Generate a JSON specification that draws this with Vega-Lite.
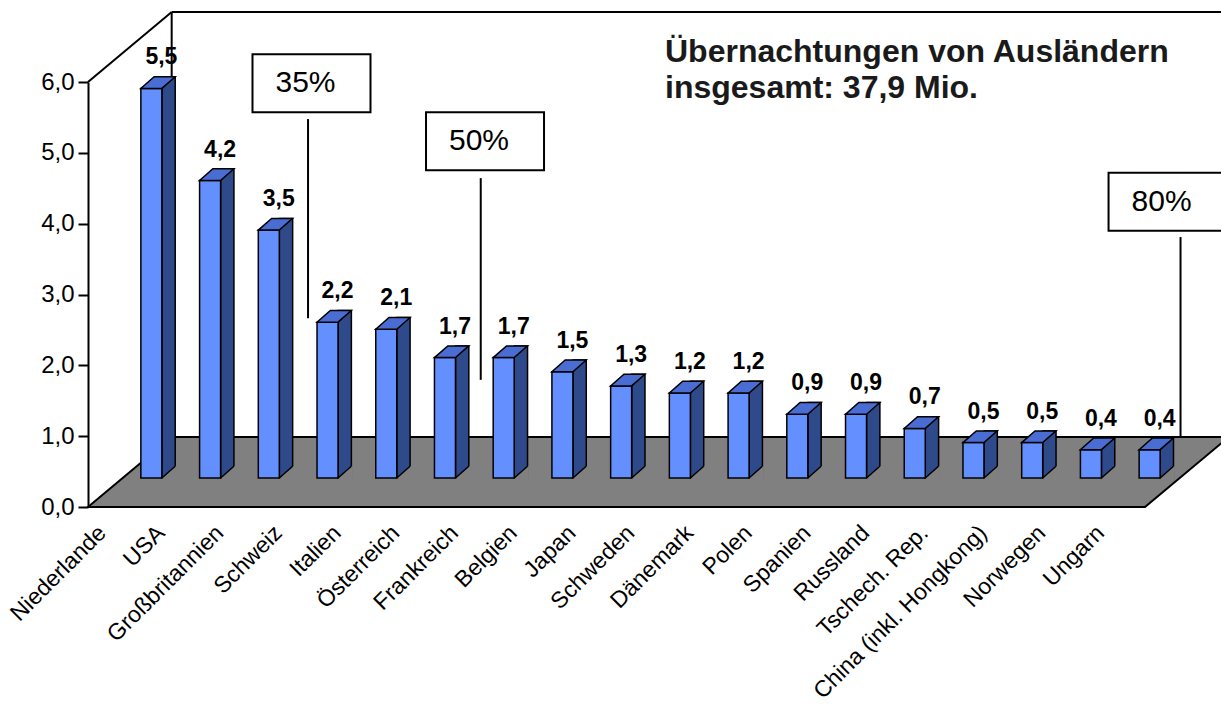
{
  "$schema": "https://vega.github.io/schema/vega-lite/v6.json",
  "width": 1057,
  "height": 425,
  "autosize": {"type": "none"},
  "padding": {"left": 88, "top": 82, "right": 76, "bottom": 202},
  "background": "white",
  "config": {
    "view": {"stroke": null},
    "font": "Liberation Sans",
    "locale": {"number": {"decimal": ",", "thousands": ".", "grouping": [3], "currency": ["", " €"]}}
  },
  "datasets": {
    "laender": [
      {"land": "Niederlande", "wert": 5.5},
      {"land": "USA", "wert": 4.2},
      {"land": "Großbritannien", "wert": 3.5},
      {"land": "Schweiz", "wert": 2.2},
      {"land": "Italien", "wert": 2.1},
      {"land": "Österreich", "wert": 1.7},
      {"land": "Frankreich", "wert": 1.7},
      {"land": "Belgien", "wert": 1.5},
      {"land": "Japan", "wert": 1.3},
      {"land": "Schweden", "wert": 1.2},
      {"land": "Dänemark", "wert": 1.2},
      {"land": "Polen", "wert": 0.9},
      {"land": "Spanien", "wert": 0.9},
      {"land": "Russland", "wert": 0.7},
      {"land": "Tschech. Rep.", "wert": 0.5},
      {"land": "China (inkl. Hongkong)", "wert": 0.5},
      {"land": "Norwegen", "wert": 0.4},
      {"land": "Ungarn", "wert": 0.4}
    ],
    "boden": [
      {"tiefe": 0, "von": 0, "bis": 18},
      {"tiefe": 0.987, "von": 1.425, "bis": 19.425}
    ],
    "rahmen": [
      {"xa": 0, "ya": 6, "xb": 1.425, "yb": 6.987},
      {"xa": 1.425, "ya": 6.987, "xb": 19.8, "yb": 6.987},
      {"xa": 1.425, "ya": 0.987, "xb": 1.425, "yb": 6.987}
    ],
    "marken": [
      {"label": "35%", "lx": 3.747, "yo": 5.477, "yu": 2.665, "bx": 3.806, "by": 5.982},
      {"label": "50%", "lx": 6.688, "yo": 4.643, "yu": 1.795, "bx": 6.761, "by": 5.164},
      {"label": "80%", "lx": 18.605, "yo": 3.811, "yu": 0.977, "bx": 18.384, "by": 4.311}
    ],
    "titel": [
      {"text": "Übernachtungen von Ausländern\ninsgesamt: 37,9 Mio."}
    ]
  },
  "resolve": {
    "scale": {"x": "independent"},
    "axis": {"x": "independent", "y": "independent"}
  },
  "layer": [
    {
      "data": {"name": "boden"},
      "mark": {"type": "area", "orient": "horizontal", "fill": "#808080", "stroke": "black", "strokeWidth": 2},
      "encoding": {
        "y": {"field": "tiefe", "type": "quantitative", "scale": {"domain": [0, 6], "nice": false}, "axis": null},
        "x": {"field": "von", "type": "quantitative", "scale": {"domain": [0, 18], "nice": false, "zero": false}, "axis": null},
        "x2": {"field": "bis"}
      }
    },
    {
      "data": {"name": "rahmen"},
      "mark": {"type": "rule", "color": "black", "strokeWidth": 2},
      "encoding": {
        "x": {"field": "xa", "type": "quantitative", "scale": {"domain": [0, 18], "nice": false, "zero": false}, "axis": null},
        "x2": {"field": "xb"},
        "y": {"field": "ya", "type": "quantitative", "scale": {"domain": [0, 6], "nice": false}, "axis": null},
        "y2": {"field": "yb"}
      }
    },
    {
      "data": {"name": "marken"},
      "mark": {"type": "rule", "color": "black", "strokeWidth": 2},
      "encoding": {
        "x": {"field": "lx", "type": "quantitative", "scale": {"domain": [0, 18], "nice": false, "zero": false}, "axis": null},
        "y": {"field": "yo", "type": "quantitative", "scale": {"domain": [0, 6], "nice": false}, "axis": null},
        "y2": {"field": "yu"}
      }
    },
    {
      "data": {"name": "laender"},
      "mark": {"type": "bar", "width": 13.3, "xOffset": 51.2, "yOffset": -40.7, "y2Offset": -29, "fill": "#2F4A8A", "stroke": "black", "strokeWidth": 1.5},
      "encoding": {
        "x": {"field": "land", "type": "nominal", "sort": null, "scale": {"type": "band", "paddingInner": 0, "paddingOuter": 0}, "axis": null},
        "y": {"field": "wert", "type": "quantitative", "scale": {"domain": [0, 6], "nice": false}, "axis": null},
        "y2": {"datum": 0}
      }
    },
    {
      "data": {"name": "laender"},
      "mark": {"type": "point", "shape": "M10.5,0L23.8,-11.7L25.2,-11.7L25.2,1.2L10.5,1.2Z", "size": 4, "filled": true, "fill": "#808080", "strokeWidth": 0, "opacity": 1, "xOffset": 34, "yOffset": -29},
      "encoding": {
        "x": {"field": "land", "type": "nominal", "sort": null, "scale": {"type": "band", "paddingInner": 0, "paddingOuter": 0}, "axis": null},
        "y": {"datum": 0, "type": "quantitative", "scale": {"domain": [0, 6], "nice": false}, "axis": null}
      }
    },
    {
      "data": {"name": "laender"},
      "mark": {"type": "point", "shape": "M10.5,0L23.8,-11.7", "size": 4, "filled": false, "stroke": "black", "strokeWidth": 1.5, "opacity": 1, "xOffset": 34, "yOffset": -29},
      "encoding": {
        "x": {"field": "land", "type": "nominal", "sort": null, "scale": {"type": "band", "paddingInner": 0, "paddingOuter": 0}, "axis": null},
        "y": {"datum": 0, "type": "quantitative", "scale": {"domain": [0, 6], "nice": false}, "axis": null}
      }
    },
    {
      "data": {"name": "laender"},
      "mark": {"type": "bar", "width": 21, "xOffset": 34, "yOffset": -29, "y2Offset": -29, "fill": "#6490FF", "stroke": "black", "strokeWidth": 1.5},
      "encoding": {
        "x": {
          "field": "land", "type": "nominal", "sort": null,
          "scale": {"type": "band", "paddingInner": 0, "paddingOuter": 0},
          "axis": {
            "title": null, "domain": false, "ticks": false,
            "labelAngle": -45, "labelAlign": "right", "labelBaseline": "middle",
            "labelFontSize": 23, "labelColor": "black", "labelFont": "Liberation Sans",
            "labelPadding": 22, "labelOffset": -15, "labelOverlap": false, "labelLimit": 0
          }
        },
        "y": {
          "field": "wert", "type": "quantitative",
          "scale": {"domain": [0, 6], "nice": false},
          "axis": {
            "values": [0, 1, 2, 3, 4, 5, 6], "format": ".1f", "title": null, "grid": false,
            "domainColor": "black", "domainWidth": 2, "tickColor": "black", "tickWidth": 2, "tickSize": 10,
            "labelFontSize": 24, "labelColor": "black", "labelFont": "Liberation Sans", "labelPadding": 4
          }
        },
        "y2": {"datum": 0}
      }
    },
    {
      "data": {"name": "laender"},
      "mark": {"type": "point", "shape": "M-10.5,0L10.5,0L23.8,-11.7L2.8,-11.7Z", "size": 4, "filled": true, "fill": "#4A6DD4", "stroke": "black", "strokeWidth": 1.5, "opacity": 1, "xOffset": 34, "yOffset": -29},
      "encoding": {
        "x": {"field": "land", "type": "nominal", "sort": null, "scale": {"type": "band", "paddingInner": 0, "paddingOuter": 0}, "axis": null},
        "y": {"field": "wert", "type": "quantitative", "scale": {"domain": [0, 6], "nice": false}, "axis": null}
      }
    },
    {
      "data": {"name": "laender"},
      "mark": {"type": "text", "fontSize": 23, "fontWeight": "bold", "font": "Liberation Sans", "color": "black", "align": "center", "baseline": "middle", "xOffset": 44, "yOffset": -60},
      "encoding": {
        "x": {"field": "land", "type": "nominal", "sort": null, "scale": {"type": "band", "paddingInner": 0, "paddingOuter": 0}, "axis": null},
        "y": {"field": "wert", "type": "quantitative", "scale": {"domain": [0, 6], "nice": false}, "axis": null},
        "text": {"field": "wert", "type": "quantitative", "format": ".1f"}
      }
    },
    {
      "data": {"name": "marken"},
      "mark": {"type": "point", "shape": "M-59,-29L59,-29L59,29L-59,29Z", "size": 4, "filled": true, "fill": "white", "stroke": "black", "strokeWidth": 2, "opacity": 1},
      "encoding": {
        "x": {"field": "bx", "type": "quantitative", "scale": {"domain": [0, 18], "nice": false, "zero": false}, "axis": null},
        "y": {"field": "by", "type": "quantitative", "scale": {"domain": [0, 6], "nice": false}, "axis": null}
      }
    },
    {
      "data": {"name": "marken"},
      "mark": {"type": "text", "fontSize": 30, "font": "Liberation Sans", "color": "black", "align": "center", "baseline": "middle", "xOffset": -6},
      "encoding": {
        "x": {"field": "bx", "type": "quantitative", "scale": {"domain": [0, 18], "nice": false, "zero": false}, "axis": null},
        "y": {"field": "by", "type": "quantitative", "scale": {"domain": [0, 6], "nice": false}, "axis": null},
        "text": {"field": "label", "type": "nominal"}
      }
    },
    {
      "data": {"name": "titel"},
      "mark": {"type": "text", "fontSize": 32, "fontWeight": "bold", "font": "Liberation Sans", "color": "#1a1a1a", "align": "left", "baseline": "alphabetic", "lineBreak": "\n", "lineHeight": 36},
      "encoding": {
        "x": {"datum": 9.826, "type": "quantitative", "scale": {"domain": [0, 18], "nice": false, "zero": false}, "axis": null},
        "y": {"datum": 6.278, "type": "quantitative", "scale": {"domain": [0, 6], "nice": false}, "axis": null},
        "text": {"field": "text", "type": "nominal"}
      }
    }
  ]
}
